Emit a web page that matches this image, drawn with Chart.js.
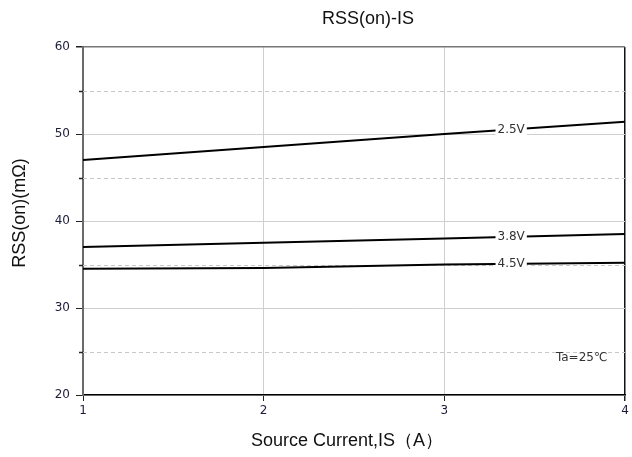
<!DOCTYPE html>
<html>
<head>
<meta charset="utf-8">
<script src="https://cdn.jsdelivr.net/npm/chart.js@4/dist/chart.umd.min.js"></script>
<style>
  html, body { margin: 0; padding: 0; background: #fff; }
  #wrap { width: 632px; height: 457px; }
</style>
</head>
<body>
<div id="wrap"><canvas id="c" width="632" height="457"></canvas></div>
<script>
// Source current IS (A)
const currents = [1, 2, 3, 4];
// RSS(on) in mΩ for each gate voltage
const rss25V = [47.0, 48.5, 50.0, 51.4];
const rss38V = [37.0, 37.5, 38.0, 38.5];
const rss45V = [34.5, 34.6, 35.0, 35.2];
const curveLabels = ['2.5V', '3.8V', '4.5V'];
const xTickValues = [1, 2, 3, 4];
const yTickValues = [20, 30, 40, 50, 60];
const yMinorValues = [25, 35, 45, 55];
const labelAtCurrent = 3.37;
const noteText = 'Ta=25℃';
const notePos = { x: 3.76, y: 24.3 };
const titleText = 'RSS(on)-IS';
const xTitleText = 'Source Current,IS（A）';
const yTitleText = 'RSS(on)(mΩ)';

const FONT = '"Liberation Sans", Arial, sans-serif';
const SMALL = '"DejaVu Sans", Verdana, sans-serif';

function pts(ys) { return currents.map((x, i) => ({ x, y: ys[i] })); }

function interp(data, xv) {
  for (let i = 0; i < data.length - 1; i++) {
    const a = data[i], b = data[i + 1];
    if (xv >= a.x && xv <= b.x) return a.y + (b.y - a.y) * (xv - a.x) / (b.x - a.x);
  }
  return data[data.length - 1].y;
}

// Dashed minor gridlines and short minor ticks on the y axis
const minorGrid = {
  id: 'minorGrid',
  beforeDatasetsDraw(chart) {
    const { ctx, chartArea, scales: { y } } = chart;
    ctx.save();
    ctx.lineWidth = 1;
    ctx.strokeStyle = '#c8c8c8';
    ctx.setLineDash([4, 3]);
    yMinorValues.forEach(v => {
      const py = Math.round(y.getPixelForValue(v)) + 0.5;
      ctx.beginPath();
      ctx.moveTo(chartArea.left, py);
      ctx.lineTo(chartArea.right, py);
      ctx.stroke();
    });
    ctx.setLineDash([]);
    ctx.strokeStyle = '#222';
    ctx.lineWidth = 1.5;
    yMinorValues.forEach(v => {
      const py = Math.round(y.getPixelForValue(v)) + 0.5;
      ctx.beginPath();
      ctx.moveTo(chartArea.left - 4, py);
      ctx.lineTo(chartArea.left, py);
      ctx.stroke();
    });
    ctx.restore();
  }
};

// Voltage labels sitting on each curve, plus the temperature note
const curveText = {
  id: 'curveText',
  afterDatasetsDraw(chart) {
    const { ctx, scales: { x, y } } = chart;
    ctx.save();
    ctx.font = '12px ' + SMALL;
    ctx.textBaseline = 'middle';
    ctx.textAlign = 'center';
    chart.data.datasets.forEach(ds => {
      const px = x.getPixelForValue(labelAtCurrent);
      const py = y.getPixelForValue(interp(ds.data, labelAtCurrent));
      const w = ctx.measureText(ds.label).width;
      ctx.fillStyle = '#fff';
      ctx.fillRect(px - w / 2 - 2, py - 6, w + 4, 12);
      ctx.fillStyle = '#333';
      ctx.fillText(ds.label, px, py + 0.5);
    });
    ctx.fillStyle = '#333';
    ctx.fillText(noteText, x.getPixelForValue(notePos.x), y.getPixelForValue(notePos.y));
    ctx.restore();
  }
};

// Chart title and axis titles
const titles = {
  id: 'titles',
  afterDraw(chart) {
    const { ctx, chartArea } = chart;
    const midX = (chartArea.left + chartArea.right) / 2;
    const midY = (chartArea.top + chartArea.bottom) / 2;
    ctx.save();
    ctx.fillStyle = '#111';
    ctx.textAlign = 'center';
    ctx.textBaseline = 'middle';
    ctx.font = '18px ' + FONT;
    ctx.fillText(titleText, midX + 14, 19.5);
    ctx.font = '18px ' + FONT;
    ctx.fillText(xTitleText, midX - 7, chartArea.bottom + 46);
    ctx.translate(20, midY - 8);
    ctx.rotate(-Math.PI / 2);
    ctx.fillText(yTitleText, 0, 0);
    ctx.restore();
  }
};

new Chart(document.getElementById('c'), {
  type: 'line',
  data: {
    datasets: [
      { label: curveLabels[0], data: pts(rss25V) },
      { label: curveLabels[1], data: pts(rss38V) },
      { label: curveLabels[2], data: pts(rss45V) }
    ].map(d => Object.assign(d, {
      borderColor: '#000', borderWidth: 2, pointRadius: 0, tension: 0, fill: false
    }))
  },
  options: {
    responsive: false,
    animation: false,
    layout: { padding: { left: 0, right: 7, top: 47, bottom: 0 } },
    plugins: {
      legend: { display: false },
      tooltip: { enabled: false },
      title: { display: false }
    },
    scales: {
      x: {
        type: 'linear',
        min: 1, max: 4,
        afterBuildTicks(s) { s.ticks = xTickValues.map(v => ({ value: v })); },
        afterFit(s) { s.height = 62; },
        ticks: {
          color: '#1c1c3a', padding: 3,
          font: { family: SMALL, size: 12 },
          callback: v => String(v)
        },
        grid: {
          color: c => (c.tick && c.tick.value === 4) ? '#111' : '#cfcfcf',
          lineWidth: c => (c.tick && c.tick.value === 4) ? 1.5 : 1,
          tickColor: '#222', tickLength: 6
        },
        border: { color: '#000', width: 1.5 }
      },
      y: {
        type: 'linear',
        min: 20, max: 60,
        afterBuildTicks(s) { s.ticks = yTickValues.map(v => ({ value: v })); },
        afterFit(s) { s.width = 83; },
        ticks: {
          color: '#1c1c3a', padding: 6,
          font: { family: SMALL, size: 12 },
          callback: v => String(v)
        },
        grid: {
          color: c => (c.tick && c.tick.value === 60) ? '#777' : '#cfcfcf',
          lineWidth: c => (c.tick && c.tick.value === 60) ? 1.5 : 1,
          tickColor: '#222', tickLength: 7
        },
        border: { color: '#6a6a6a', width: 2 }
      }
    }
  },
  plugins: [minorGrid, curveText, titles]
});
</script>
</body>
</html>
